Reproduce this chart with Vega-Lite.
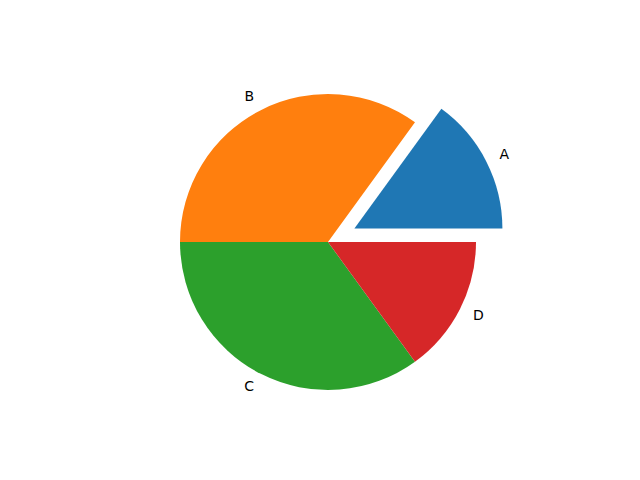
{
  "$schema": "https://vega.github.io/schema/vega-lite/v6.json",
  "width": 640,
  "height": 480,
  "autosize": {"type": "none"},
  "padding": {"left": 8, "top": 2, "right": 0, "bottom": 0},
  "background": "white",
  "view": {"stroke": null},
  "data": {
    "values": [
      {"label": "A", "value": 15},
      {"label": "B", "value": 35},
      {"label": "C", "value": 35},
      {"label": "D", "value": 15}
    ]
  },
  "encoding": {
    "theta": {"field": "value", "type": "quantitative", "stack": true, "scale": {"range": [1.5707963, 7.8539816]}},
    "order": {"field": "label", "sort": "descending"}
  },
  "layer": [
    {
      "mark": {
        "type": "arc",
        "outerRadius": 148,
        "xOffset": {"expr": "datum.label === 'A' ? 26.4 : 0"},
        "yOffset": {"expr": "datum.label === 'A' ? -13.4 : 0"}
      },
      "encoding": {
        "color": {
          "field": "label",
          "type": "nominal",
          "scale": {"domain": ["A", "B", "C", "D"], "range": ["#1f77b4", "#ff7f0e", "#2ca02c", "#d62728"]},
          "legend": null
        }
      }
    },
    {
      "mark": {
        "type": "text",
        "radius": 162.8,
        "font": "DejaVu Sans",
        "fontSize": 14,
        "color": "black",
        "baseline": "middle",
        "align": {"expr": "(datum.label === 'A' || datum.label === 'D') ? 'left' : 'right'"},
        "xOffset": {"expr": "datum.label === 'A' ? 26.4 : 0"},
        "yOffset": {"expr": "datum.label === 'A' ? -13.4 : 0"}
      },
      "encoding": {
        "text": {"field": "label", "type": "nominal"}
      }
    }
  ]
}
